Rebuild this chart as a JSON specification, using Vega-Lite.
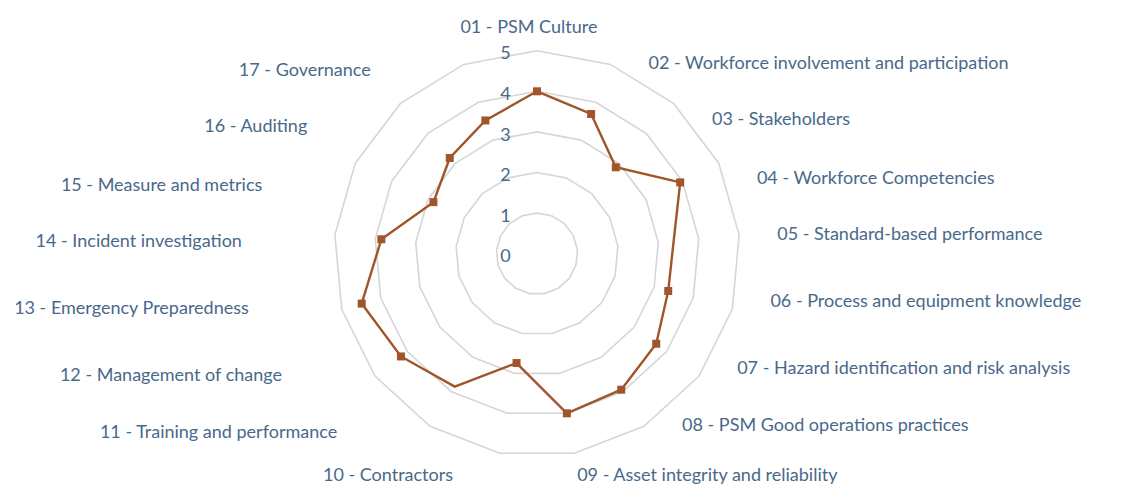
{
  "$schema": "https://vega.github.io/schema/vega-lite/v6.json",
  "width": 1140,
  "height": 500,
  "autosize": {"type": "none"},
  "padding": 0,
  "background": "white",
  "config": {"view": {"stroke": null}},
  "datasets": {
    "scores": [
      {"cat": "01 - PSM Culture", "score": 4.0},
      {"cat": "02 - Workforce involvement and participation", "score": 3.69},
      {"cat": "03 - Stakeholders", "score": 2.88},
      {"cat": "04 - Workforce Competencies", "score": 3.94},
      {"cat": "05 - Standard-based performance", "score": 3.38},
      {"cat": "06 - Process and equipment knowledge", "score": 3.36},
      {"cat": "07 - Hazard identification and risk analysis", "score": 3.68},
      {"cat": "08 - PSM Good operations practices", "score": 3.94},
      {"cat": "09 - Asset integrity and reliability", "score": 4.0},
      {"cat": "10 - Contractors", "score": 2.74},
      {"cat": "11 - Training and performance", "score": 3.85},
      {"cat": "12 - Management of change", "score": 4.2},
      {"cat": "13 - Emergency Preparedness", "score": 4.49},
      {"cat": "14 - Incident investigation", "score": 3.85},
      {"cat": "15 - Measure and metrics", "score": 2.85},
      {"cat": "16 - Auditing", "score": 3.19},
      {"cat": "17 - Governance", "score": 3.52}
    ],
    "ticks": [{"v": 0}, {"v": 1}, {"v": 2}, {"v": 3}, {"v": 4}, {"v": 5}]
  },
  "data": {"name": "scores"},
  "transform": [
    {"calculate": "toNumber(slice(datum.cat, 0, 2)) - 1", "as": "i"},
    {"calculate": "datum.i * 2 * PI / 17", "as": "a"},
    {"calculate": "sin(datum.a)", "as": "s"},
    {"calculate": "cos(datum.a)", "as": "c"},
    {"calculate": "datum.c < -0.95 ? -0.56 : ((datum.c > 0.3 && datum.c < 0.8 ? -0.394 : (datum.c < -0.2 && datum.c > -0.7 ? 0.172 : 0)) + (datum.s < 0 ? -0.172 : 0))", "as": "ldy"}
  ],
  "encoding": {
    "x": {"field": "px", "type": "quantitative", "scale": {"domain": [-13.227, 14.852], "nice": false, "zero": false}, "axis": null},
    "y": {"field": "py", "type": "quantitative", "scale": {"domain": [-6.067, 6.249], "nice": false, "zero": false}, "axis": null}
  },
  "layer": [
    {
      "transform": [
        {"calculate": "[1, 2, 3, 4, 5]", "as": "level"},
        {"flatten": ["level"]},
        {"calculate": "datum.level * datum.s", "as": "px"},
        {"calculate": "datum.level * datum.c", "as": "py"}
      ],
      "mark": {"type": "line", "interpolate": "linear-closed", "color": "#d6d6d6", "strokeWidth": 1.6},
      "encoding": {"detail": {"field": "level", "type": "nominal"}, "order": {"field": "i", "type": "quantitative"}}
    },
    {
      "transform": [
        {"calculate": "datum.score * datum.s", "as": "px"},
        {"calculate": "datum.score * datum.c", "as": "py"}
      ],
      "mark": {"type": "line", "interpolate": "linear-closed", "color": "#a0552a", "strokeWidth": 2.4},
      "encoding": {"order": {"field": "i", "type": "quantitative"}}
    },
    {
      "transform": [
        {"filter": "datum.i != 4 && datum.i != 10"},
        {"calculate": "datum.score * datum.s", "as": "px"},
        {"calculate": "datum.score * datum.c", "as": "py"}
      ],
      "mark": {"type": "square", "size": 64, "filled": true, "color": "#a0552a", "opacity": 1}
    },
    {
      "transform": [
        {"filter": "datum.s > 0.1"},
        {"calculate": "5 * datum.s + (datum.s < 0.3 ? 0.07 : 0.94)", "as": "px"},
        {"calculate": "5 * datum.c + datum.ldy", "as": "py"}
      ],
      "mark": {"type": "text", "align": "left", "baseline": "middle", "font": "Lato", "fontSize": 18, "color": "#48698a"},
      "encoding": {"text": {"field": "cat"}}
    },
    {
      "transform": [
        {"filter": "datum.s < -0.1"},
        {"calculate": "5 * datum.s - (datum.s > -0.3 ? 1.15 : 2.29)", "as": "px"},
        {"calculate": "5 * datum.c + datum.ldy", "as": "py"}
      ],
      "mark": {"type": "text", "align": "right", "baseline": "middle", "font": "Lato", "fontSize": 18, "color": "#48698a"},
      "encoding": {"text": {"field": "cat"}}
    },
    {
      "transform": [
        {"filter": "abs(datum.s) <= 0.1"},
        {"calculate": "5 * datum.s - 0.2", "as": "px"},
        {"calculate": "5 * datum.c + 0.56", "as": "py"}
      ],
      "mark": {"type": "text", "align": "center", "baseline": "middle", "font": "Lato", "fontSize": 18, "color": "#48698a"},
      "encoding": {"text": {"field": "cat"}}
    },
    {
      "data": {"name": "ticks"},
      "transform": [
        {"calculate": "-0.65", "as": "px"},
        {"calculate": "datum.v - 0.09", "as": "py"}
      ],
      "mark": {"type": "text", "align": "right", "baseline": "middle", "font": "Lato", "fontSize": 18, "color": "#48698a"},
      "encoding": {"text": {"field": "v", "type": "quantitative"}}
    }
  ]
}
